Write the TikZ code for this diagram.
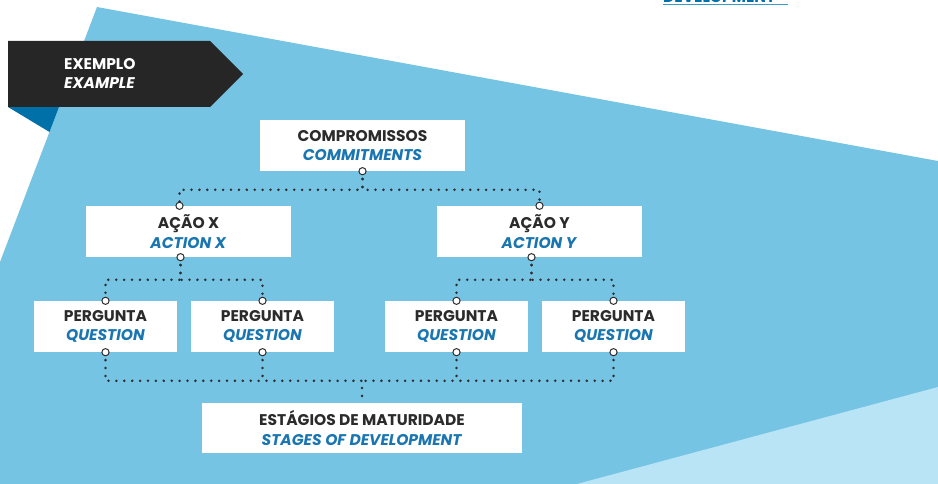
\documentclass[tikz,border=0pt]{standalone}
\usepackage{fontspec}
\setmainfont{Poppins}
\usepackage{tikz}
\usetikzlibrary{shapes,calc}
\definecolor{skyblue}{HTML}{76C4E4}
\definecolor{paleblue}{HTML}{B8E4F6}
\definecolor{deepblue}{HTML}{0070A8}
\definecolor{bannergray}{HTML}{262626}
\definecolor{labelgray}{HTML}{2B2B2B}
\definecolor{itblue}{HTML}{1A76B0}
\definecolor{dotgray}{HTML}{2E2E2E}
\newcommand{\boxfont}{\fontsize{15.5}{19.5}\selectfont}
\newcommand{\twolines}[2]{\textbf{#1}\\\textcolor{itblue}{\textbf{\textit{#2}}}}
\tikzstyle{block} = [rectangle, fill=white, text=labelgray, align=center,
    font=\boxfont, inner sep=0pt, minimum height=51pt]
\tikzstyle{wideblock} = [block, minimum width=205pt]
\tikzstyle{smallblock} = [block, minimum width=143pt]
\tikzstyle{dotline} = [draw=dotgray, line width=2.8pt, line cap=round,
    dash pattern=on 0pt off 7.9pt]
\tikzstyle{port} = [draw=dotgray, fill=white, line width=1pt]

\begin{document}
\begin{tikzpicture}[x=1pt, y=-1pt]
 % Background
   \fill[white] (0,0) rectangle (938,484);
   \useasboundingbox (0,0) rectangle (938,484);
   \fill[skyblue] (97,7) -- (938,161) -- (938,484) -- (0,484) -- (0,262) -- cycle;
   \fill[paleblue] (577,484) -- (938,387) -- (938,484) -- cycle;
   \fill[deepblue] (8,107) -- (59,107) -- (49.5,132) -- cycle;
   \fill[bannergray] (8,41) -- (210,41) -- (243,74) -- (210,107) -- (8,107) -- cycle;
   \node[anchor=base west, text=white, align=left, font=\boxfont, inner sep=0pt]
     (tag) at (64,89) {\textbf{EXEMPLO}\\\textbf{\textit{EXAMPLE}}};
   \node[anchor=base west, text=deepblue, font=\boxfont\bfseries, inner sep=0pt]
     (dev) at (663,2.5) {DEVELOPMENT};
   \draw[color=deepblue!50!skyblue, line width=1.5pt] (663,4.5) -- (788,4.5);

 % Place nodes
   \node[wideblock] (commit) at (362.5,145.5) {\twolines{COMPROMISSOS}{COMMITMENTS}};
   \node[wideblock] (acaox) at (188.5,231.5) {\twolines{AÇÃO X}{ACTION X}};
   \node[wideblock] (acaoy) at (539.5,231.5) {\twolines{AÇÃO Y}{ACTION Y}};
   \node[smallblock] (q1) at (105.5,326.5) {\twolines{PERGUNTA}{QUESTION}};
   \node[smallblock] (q2) at (262.5,326.5) {\twolines{PERGUNTA}{QUESTION}};
   \node[smallblock] (q3) at (456.5,326.5) {\twolines{PERGUNTA}{QUESTION}};
   \node[smallblock] (q4) at (613.5,326.5) {\twolines{PERGUNTA}{QUESTION}};
   \node[block, minimum width=320pt, minimum height=50pt] (stages) at (362,428)
     {\twolines{ESTÁGIOS DE MATURIDADE}{STAGES OF DEVELOPMENT}};

   \coordinate (xin) at ($(acaox.north)+(-9,0)$);
   \coordinate (xout) at ($(acaox.south)+(-8,0)$);
   \coordinate (yout) at ($(acaoy.south)+(-8,0)$);
   \coordinate (join) at ($(stages.north)+(0,-22)$);

 % Draw edges
   \path[dotline] (commit.south) |- ($(xin)+(0,-16)$) -- (xin);
   \path[dotline] (commit.south) |- ($(acaoy.north)+(0,-16)$) -- (acaoy.north);
   \path[dotline] (xout) |- ($(q1.north)+(0,-21)$) -- (q1.north);
   \path[dotline] (xout) |- ($(q2.north)+(0,-21)$) -- (q2.north);
   \path[dotline] (yout) |- ($(q3.north)+(0,-21)$) -- (q3.north);
   \path[dotline] (yout) |- ($(q4.north)+(0,-21)$) -- (q4.north);
   \path[dotline] (q1.south) |- (join) -- (stages.north);
   \path[dotline] (q4.south) |- (join);
   \path[dotline] (q2.south) -- (q2.south |- join);
   \path[dotline] (q3.south) -- (q3.south |- join);

   \foreach \p in {commit.south, xin, xout, acaoy.north, yout,
       q1.north, q2.north, q3.north, q4.north,
       q1.south, q2.south, q3.south, q4.south}
     \draw[port] (\p) circle (3.6pt);
\end{tikzpicture}
\end{document}
